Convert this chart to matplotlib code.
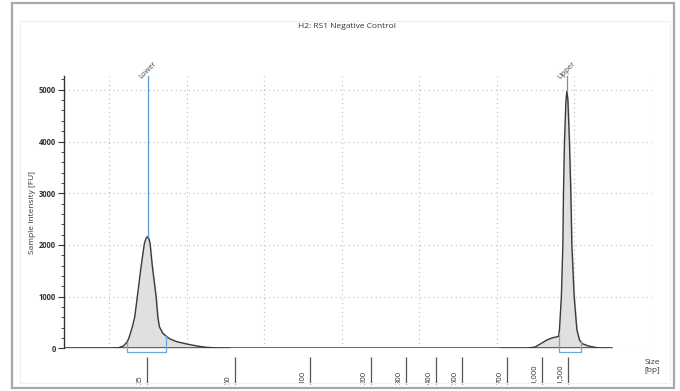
import numpy as np
import matplotlib.pyplot as plt
from matplotlib.patches import Rectangle
from matplotlib.transforms import blended_transform_factory

plt.rcParams['font.family'] = ['Open Sans', 'DejaVu Sans']

# electropherogram trace (run position, intensity in FU)
lower_x = [4.15, 10.09, 11.16, 11.81, 12.32, 12.58, 12.97, 13.28, 13.61, 14.09, 14.52, 14.74,
           14.90, 15.07, 15.25, 15.55, 16.03, 16.25, 16.45, 16.89, 17.41, 17.83, 18.70, 19.99,
           21.28, 22.48, 23.86, 25.57]
lower_y = [0, 0, 10, 44, 128, 225, 418, 611, 1000, 1578, 2030, 2130,
           2159, 2130, 2030, 1578, 1000, 611, 418, 290, 225, 180, 128, 83,
           45, 20, 5, 0]

upper_x = [60.41, 63.64, 64.93, 66.44, 67.08, 67.51, 67.94, 68.06, 68.31, 68.50, 68.58, 68.71,
           68.90, 69.02, 69.15, 69.35, 69.53, 69.66, 69.96, 70.31, 70.65, 71.00, 71.77, 73.06,
           74.86]
upper_y = [0, 0, 25, 160, 200, 215, 230, 354, 1000, 2000, 3000, 4000,
           4800, 4970, 4800, 4000, 3000, 2000, 1000, 354, 160, 90, 45, 8,
           0]

trace_start = 4.15
trace_end = 74.86

# markers
marker_names = ['Lower', 'Upper']
marker_pos = [14.93, 69.06]
marker_peak = [2159, 4970]
# integration ranges: (start, end, height at start, height at end)
ranges = [(12.32, 17.28, 128, 235), (68.02, 70.83, 300, 125)]

# sizing ladder
ladder_bp = ['25', '50', '100', '200', '300', '400', '500', '700', '1,000', '1,500']
ladder_pos = [14.86, 26.18, 35.90, 43.77, 48.25, 52.15, 55.51, 61.32, 65.83, 69.15]

W, H = 680, 391
fig = plt.figure(figsize=(W / 100, H / 100), dpi=100)
fig.patches.append(Rectangle((12 / W, 3 / H), 662 / W, 385 / H, transform=fig.transFigure,
                             fill=False, edgecolor='#a8a8a8', linewidth=1.6))
fig.patches.append(Rectangle((20 / W, 8 / H), 650 / W, 362 / H, transform=fig.transFigure,
                             fill=False, edgecolor='#f0f0f0', linewidth=0.8))

ax = fig.add_axes([64 / W, 1 - 348.3 / H, 588 / W, 272.3 / H])
ax.set_xlim(4.15, 80.0)
ax.set_ylim(0, 5267)

ax.fill_between(lower_x, lower_y, color='#e0e0e0', zorder=2)
ax.fill_between(upper_x, upper_y, color='#e0e0e0', zorder=2)
ax.plot(lower_x, lower_y, color='#3a3a3a', lw=1.0, zorder=3)
ax.plot(upper_x, upper_y, color='#3a3a3a', lw=1.0, zorder=3)
ax.plot([trace_start, trace_end], [0, 0], color='#3a3a3a', lw=1.8, zorder=4, solid_capstyle='butt')

# grid
ax.set_xticks(np.arange(10, 81, 10))
ax.set_yticks(np.arange(0, 5001, 1000))
ax.set_yticks(np.arange(0, 5201, 200), minor=True)
ax.grid(True, which='major', linestyle=(0, (1, 3)), color='#bdbdbd', lw=0.8)
ax.set_axisbelow(True)
ax.tick_params(axis='x', bottom=False, labelbottom=False)
ax.tick_params(axis='y', which='major', length=4, width=0.8, labelsize=5.5, pad=2, colors='#333333')
ax.tick_params(axis='y', which='minor', length=2, width=0.6, colors='#333333')
for lab in ax.get_yticklabels():
    lab.set_fontweight('bold')
for s in ['top', 'right', 'bottom']:
    ax.spines[s].set_visible(False)
ax.spines['left'].set_color('#333333')
ax.spines['left'].set_linewidth(1.0)
ax.set_ylabel('Sample Intensity [FU]', fontsize=6, color='#333333', labelpad=2)

# peak markers
for name, pos, top in zip(marker_names, marker_pos, marker_peak):
    ax.plot([pos, pos], [top, 5267], color='#5b9bd5', lw=0.9, zorder=5, clip_on=False)
    ax.text(pos + 0.3, 5330, name, rotation=45, fontsize=5.5, color='#444444',
            ha='center', va='bottom', rotation_mode='anchor')

for x0, x1, h0, h1 in ranges:
    ax.plot([x0, x0, x1, x1], [h0, -72, -72, h1], color='#6aa8e0', lw=0.9, zorder=5, clip_on=False)

# size ladder below the axis (y in figure pixels from the top)
tr = blended_transform_factory(ax.transData, fig.transFigure)
lad_top = 1 - 357 / H
lad_bot = 1 - 384 / H
for bp, pos in zip(ladder_bp, ladder_pos):
    ax.plot([pos, pos], [lad_top, lad_bot], color='#555555', lw=0.9, transform=tr,
            clip_on=False, solid_capstyle='butt')
    ax.text(pos - 0.45, lad_bot, bp, rotation=90, fontsize=5.5, color='#333333',
            ha='left', va='bottom', rotation_mode='anchor', transform=tr)
fig.text(652 / W, 1 - 366.5 / H, 'Size\n[bp]', fontsize=6, color='#333333', ha='center',
         va='center', linespacing=1.4)

fig.text(347 / W, 1 - 27 / H, 'H2: RS1 Negative Control', fontsize=6, color='#333333',
         ha='center', va='center')

fig.savefig('out.png', dpi=100)
